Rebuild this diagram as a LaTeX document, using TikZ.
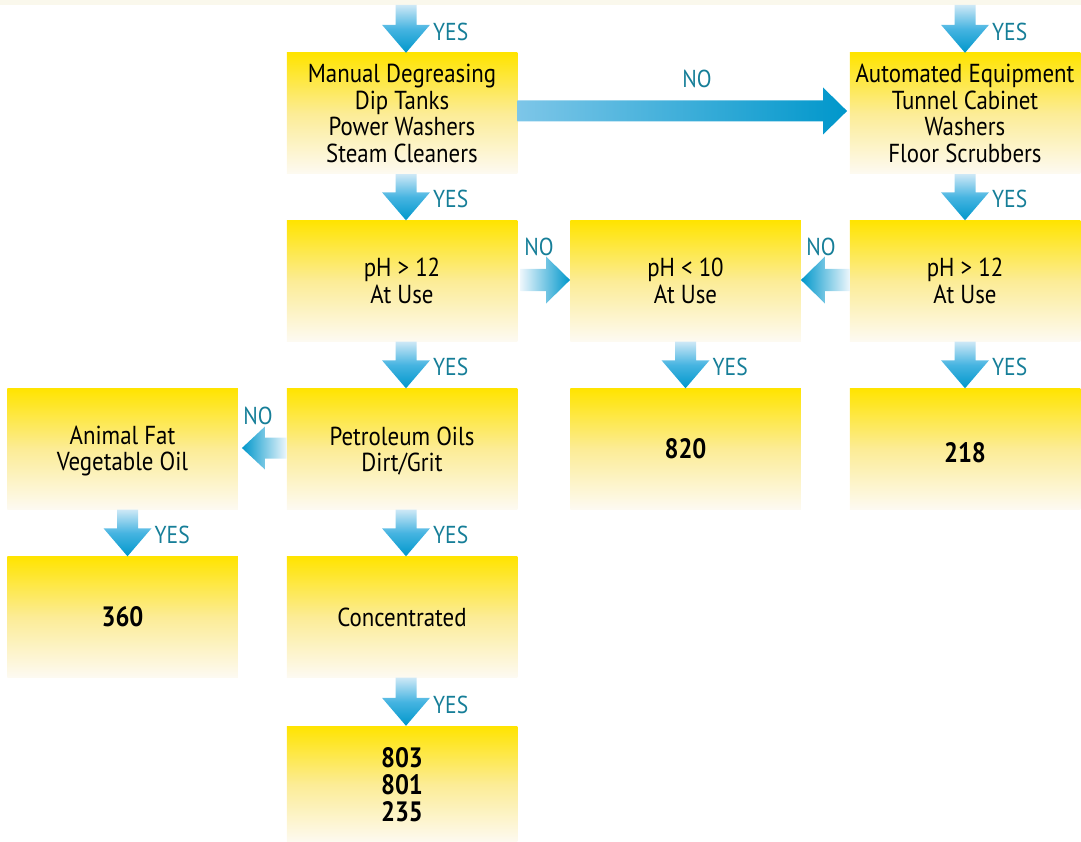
\documentclass[tikz,border=0pt]{standalone}
\usepackage{fontspec}
\setmainfont{PT Sans}[FakeStretch=0.88]
\usetikzlibrary{calc}
\definecolor{ylw}{RGB}{255,228,0}
\definecolor{ylwmid}{RGB}{252,236,150}
\definecolor{ylwbot}{RGB}{253,250,242}
\definecolor{lblc}{RGB}{22,126,152}
\definecolor{arrlight}{RGB}{205,232,246}
\definecolor{arrmid}{RGB}{70,180,225}
\definecolor{arrdark}{RGB}{0,151,203}
\definecolor{arrpale}{RGB}{236,246,252}
\definecolor{arrbig}{RGB}{125,198,232}
\definecolor{stripc}{RGB}{250,248,236}
\newcommand\boxfont{\fontsize{26}{26.7}\selectfont}
\newcommand\numfont{\fontsize{28}{26.7}\selectfont\bfseries}
\newcommand\lblfont{\fontsize{24.5}{26}\selectfont}
\tikzset{
  box/.style={rectangle, inner sep=0pt, align=center, minimum width=230.5pt,
    minimum height=121pt, top color=ylw, bottom color=ylwbot, middle color=ylwmid,
    font=\boxfont},
  numbox/.style={box, font=\numfont},
  yeslbl/.style={text=lblc, font=\lblfont, anchor=base west, inner sep=0pt},
  nolbl/.style={text=lblc, font=\lblfont, anchor=base, inner sep=0pt},
}
% down arrow with YES label: #1 shaft start, #2 tip, #3 label name
\newcommand\mydarr[3]{%
  \path #1 coordinate (ds) #2 coordinate (dt);
  \shade[top color=arrlight, bottom color=arrdark, middle color=arrmid]
    (dt) -- ($(dt)+(-24,-28)$) -- ($(dt)+(-10.5,-28)$) -- ($(ds)+(-10.5,0)$)
    -- ($(ds)+(10.5,0)$) -- ($(dt)+(10.5,-28)$) -- ($(dt)+(24,-28)$) -- cycle;
  \node[yeslbl] (#3) at ($(dt)+(27,-12.5)$) {YES};}
% right arrow: #1 tail, #2 tip, #3 head length, #4 head half, #5 shaft half, #6 shading
\newcommand\myrarr[6]{%
  \path #1 coordinate (hs) #2 coordinate (ht);
  \shade[#6] (ht) -- ($(ht)+(-#3,-#4)$) -- ($(ht)+(-#3,-#5)$) -- ($(hs)+(0,-#5)$)
    -- ($(hs)+(0,#5)$) -- ($(ht)+(-#3,#5)$) -- ($(ht)+(-#3,#4)$) -- cycle;}
% left arrow
\newcommand\mylarr[6]{%
  \path #1 coordinate (hs) #2 coordinate (ht);
  \shade[#6] (ht) -- ($(ht)+(#3,-#4)$) -- ($(ht)+(#3,-#5)$) -- ($(hs)+(0,-#5)$)
    -- ($(hs)+(0,#5)$) -- ($(ht)+(#3,#5)$) -- ($(ht)+(#3,#4)$) -- cycle;}
\begin{document}
\begin{tikzpicture}[x=1pt, y=-1pt]
\useasboundingbox (0,0) rectangle (1081,842);
\fill[stripc] (0,0) rectangle (1081,5);
% boxes
\node[box] (m1) at (402,113.5) {Manual Degreasing\\Dip Tanks\\Power Washers\\Steam Cleaners};
\node[box] (a1) at (965,113.5) {Automated Equipment\\Tunnel Cabinet\\Washers\\Floor Scrubbers};
\node[box] (b2) at (402,281) {pH > 12\\At Use};
\node[box] (c2) at (685.5,281) {pH < 10\\At Use};
\node[box] (d2) at (965,281) {pH > 12\\At Use};
\node[box] (e3) at (122.5,449) {\raisebox{-2pt}[\height][\depth]{Animal Fat}\\\raisebox{-2pt}[\height][\depth]{Vegetable Oil}};
\node[box] (f3) at (402,449) {\raisebox{-2pt}[\height][\depth]{Petroleum Oils}\\\raisebox{-2pt}[\height][\depth]{Dirt/Grit}};
\node[numbox] (g3) at (685.5,449) {820};
\node[numbox] (h3) at (965,449) {\raisebox{-4pt}[\height][\depth]{218}};
\node[numbox] (i4) at (122.5,617) {360};
\node[box] (j4) at (402,617) {Concentrated};
\node[numbox, minimum height=117pt] (k5) at (402,784.5) {803\\801\\235};
% entry coordinates
\coordinate (in1) at (406,5);
\coordinate (in2) at (965,5);
% down arrows
\mydarr{(in1)}{($(m1.north)+(4,0)$)}{y1}
\mydarr{(in2)}{(a1.north)}{y2}
\mydarr{($(m1.south)+(4,0)$)}{($(b2.north)+(4,0)$)}{y3}
\mydarr{(a1.south)}{(d2.north)}{y4}
\mydarr{($(b2.south)+(4,0)$)}{($(f3.north)+(4,0)$)}{y5}
\mydarr{(c2.south)}{(g3.north)}{y6}
\mydarr{(d2.south)}{(h3.north)}{y7}
\mydarr{($(e3.south)+(5,0)$)}{($(i4.north)+(5,0)$)}{y8}
\mydarr{($(f3.south)+(4,0)$)}{($(j4.north)+(4,0)$)}{y9}
\mydarr{($(j4.south)+(4,0)$)}{($(k5.north)+(4,0)$)}{y10}
% horizontal arrows
\myrarr{($(m1.east)+(0,-2.5)$)}{($(a1.west)+(-2.5,-2.5)$)}{24}{23.5}{10.5}{left color=arrbig, right color=arrdark}
\myrarr{($(b2.east)+(3,-1)$)}{($(c2.west)+(0,-1)$)}{24}{23.5}{11}{left color=arrpale, right color=arrdark}
\mylarr{($(d2.west)+(0,-1)$)}{($(c2.east)+(0,-1)$)}{24}{23.5}{11}{left color=arrdark, right color=arrpale}
\mylarr{($(f3.west)+(0,-1)$)}{($(e3.east)+(4,-1)$)}{23}{21.5}{10.5}{left color=arrdark, right color=arrpale}
% NO labels
\node[nolbl] (n1) at (697,88) {NO};
\node[nolbl] (n2) at (539,256) {NO};
\node[nolbl] (n3) at (821,256) {NO};
\node[nolbl] (n4) at (258,424) {NO};
\end{tikzpicture}
\end{document}
